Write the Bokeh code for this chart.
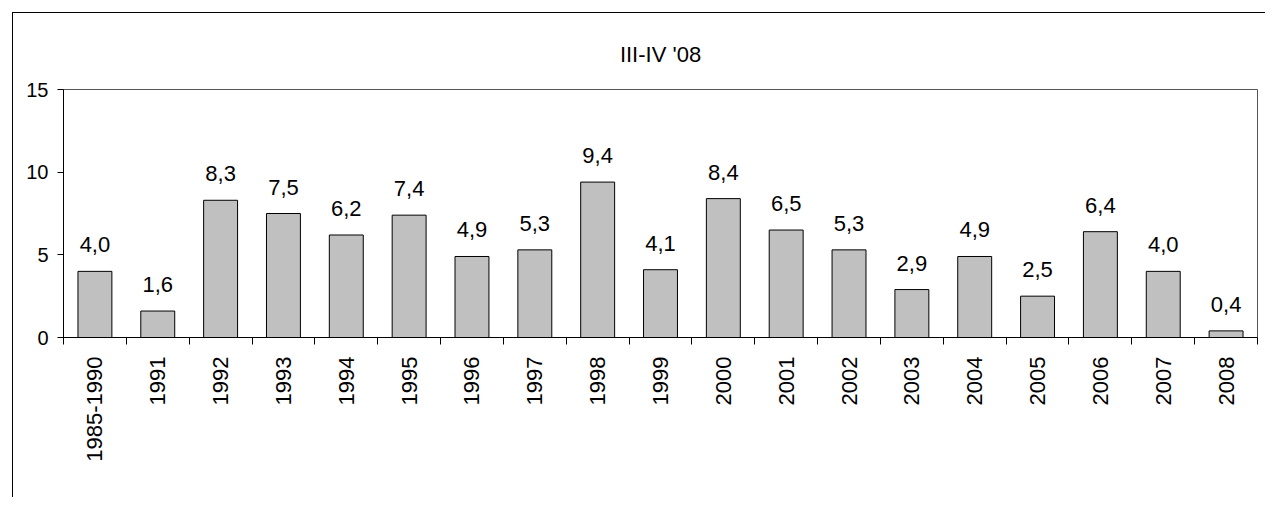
import math
from bokeh.plotting import figure
from bokeh.models import ColumnDataSource, Range1d, FixedTicker
from bokeh.core.properties import value
from bokeh.embed import file_html
from bokeh.resources import INLINE

categories = ["1985-1990", "1991", "1992", "1993", "1994", "1995", "1996", "1997",
              "1998", "1999", "2000", "2001", "2002", "2003", "2004", "2005",
              "2006", "2007", "2008"]
values = [4.0, 1.6, 8.3, 7.5, 6.2, 7.4, 4.9, 5.3, 9.4, 4.1, 8.4, 6.5, 5.3, 2.9,
          4.9, 2.5, 6.4, 4.0, 0.4]
y_ticks = [0, 5, 10, 15]
title_text = "III-IV '08"

FONT = "Liberation Sans"

centers = [i + 0.5 for i in range(len(categories))]
labels = [f"{v:.1f}".replace(".", ",") for v in values]
src = ColumnDataSource(data=dict(x=centers, top=values, label=labels))

p = figure(width=1253, height=485, output_backend="svg", toolbar_location=None,
           x_range=Range1d(0, len(categories)), y_range=Range1d(0, 15),
           min_border_left=50, min_border_top=76, min_border_right=9,
           min_border_bottom=161, title=title_text)
p.styles = {"margin-left": "12px", "margin-top": "12px",
            "border-left": "1px solid #000000", "border-top": "1px solid #000000"}

p.title.align = "center"
p.title.text_font = FONT
p.title.text_font_size = "22px"
p.title.text_font_style = "normal"
p.title.text_color = "#000000"
p.title.standoff = 45

p.background_fill_color = "white"
p.border_fill_color = "white"
p.outline_line_color = "#555555"
p.outline_line_width = 1
p.xgrid.visible = False
p.ygrid.visible = False

p.vbar(x="x", top="top", bottom=0, width=0.54, source=src,
       fill_color="#C0C0C0", line_color="#000000", line_width=1)
p.text(x="x", y="top", text="label", source=src, text_align="center",
       text_baseline="bottom", y_offset=-19, text_font=value(FONT),
       text_font_size="22px", text_color="#000000")

# y axis
p.yaxis.ticker = FixedTicker(ticks=y_ticks)
p.yaxis.axis_line_color = "#000000"
p.yaxis.major_tick_out = 6
p.yaxis.major_tick_in = 0
p.yaxis.minor_tick_line_color = None
p.yaxis.major_label_standoff = 9
p.yaxis.major_label_text_font = FONT
p.yaxis.major_label_text_font_size = "20px"
p.yaxis.major_label_text_color = "#000000"

# x axis
p.xaxis.ticker = FixedTicker(ticks=centers, minor_ticks=list(range(len(categories) + 1)))
p.xaxis.major_label_overrides = {c: cat for c, cat in zip(centers, categories)}
p.xaxis.axis_line_color = "#000000"
p.xaxis.major_tick_line_color = None
p.xaxis.major_tick_out = 0
p.xaxis.major_tick_in = 0
p.xaxis.minor_tick_out = 7
p.xaxis.minor_tick_in = 0
p.xaxis.minor_tick_line_color = "#000000"
p.xaxis.major_label_orientation = math.pi / 2
p.xaxis.major_label_standoff = 12
p.xaxis.major_label_text_font = FONT
p.xaxis.major_label_text_font_size = "22px"
p.xaxis.major_label_text_color = "#000000"

open("out.html", "w").write(file_html(p, INLINE))
